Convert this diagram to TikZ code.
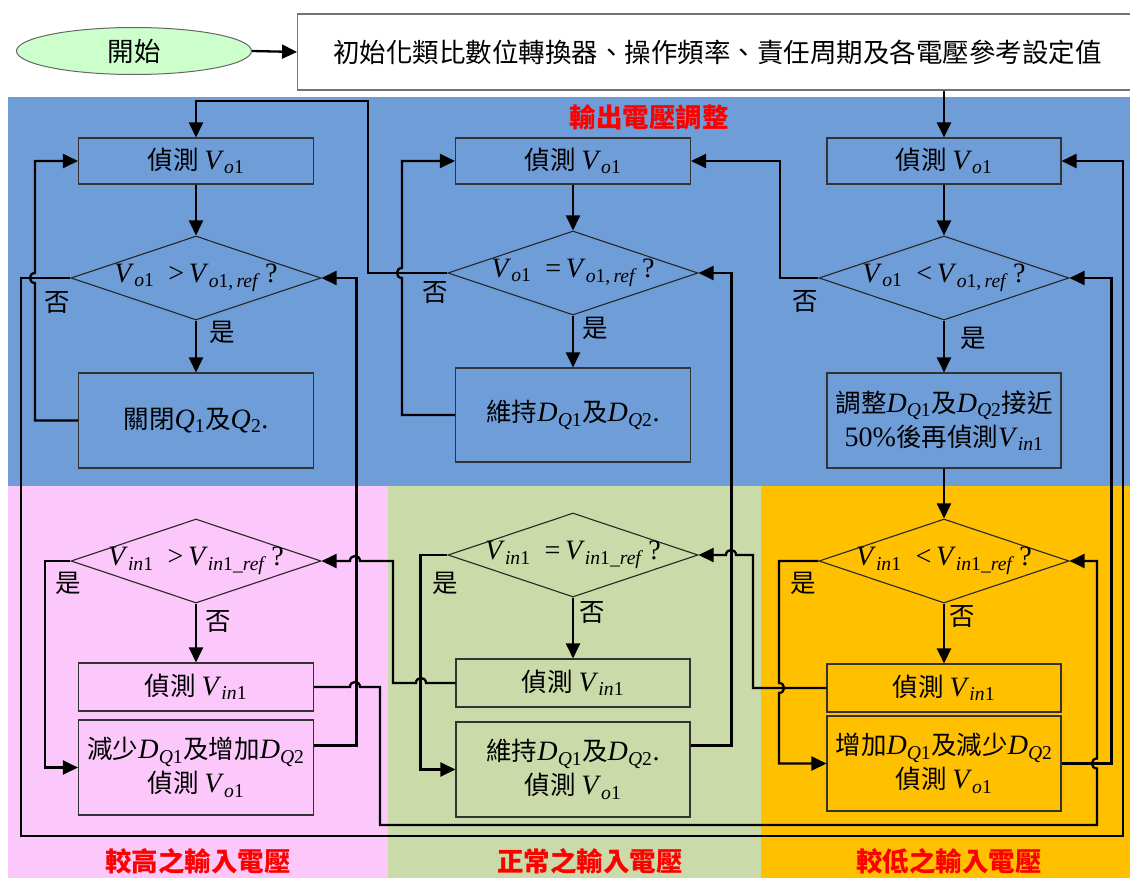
\documentclass[tikz,border=0pt]{standalone}
\usepackage{fontspec}
\setmainfont{Noto Sans CJK TC}
\newfontfamily\tms[Scale=1.1]{Liberation Serif}
\usetikzlibrary{shapes.geometric,arrows.meta,calc}
\definecolor{bgblue}{HTML}{6F9DD8}
\definecolor{bgpink}{HTML}{FCC8FC}
\definecolor{bggreen}{HTML}{CBDAA9}
\definecolor{bgorange}{HTML}{FFC000}
\definecolor{startgreen}{HTML}{CCFFCC}
\newcommand\bodyfont{\fontsize{25.5}{34}\selectfont}
\newcommand\startfont{\fontsize{26.5}{30}\selectfont}
\newcommand\titlefont{\fontsize{26.5}{30}\selectfont\bfseries}
\newcommand\mVo{{\tms\textit{V}\textsubscript{\textit{o}1}}}
\newcommand\mVin{{\tms\textit{V}\textsubscript{\textit{in}1}}}
\newcommand\mVoref{{\tms\textit{V}\textsubscript{\textit{o}1,\,\textit{ref}}}}
\newcommand\mVinref{{\tms\textit{V}\textsubscript{\textit{in}1\_\textit{ref}}}}
\newcommand\mDQ[1]{{\tms\textit{D}\textsubscript{\textit{Q}#1}}}
\newcommand\mQ[1]{{\tms\textit{Q}\textsubscript{#1}}}
\newcommand\mOp[1]{{\tms\enspace#1\,}}
\newcommand\mQm{{\tms\,?}}
\begin{document}
\begin{tikzpicture}[x=1pt,y=-1pt,
  box/.style={draw=black!80, line width=1.1pt, minimum width=235pt, minimum height=46pt, inner sep=0pt, font=\bodyfont, align=center},
  dia/.style={diamond, draw=black!85, line width=1.1pt, minimum width=250pt, minimum height=84pt, inner sep=0pt},
  txt/.style={font=\bodyfont, inner sep=0pt},
  conn/.style={line width=2.3pt, -{Triangle[length=15pt,width=14pt]}},
  ttl/.style={font=\titlefont, text=red, inner sep=0pt}]
\useasboundingbox (0,0) rectangle (1130,878);
\fill[white] (0,0) rectangle (1130,878);
\fill[bgblue] (8,97) rectangle (1130,486);
\fill[bgpink] (8,486) rectangle (388,878);
\fill[bggreen] (388,486) rectangle (761,878);
\fill[bgorange] (761,486) rectangle (1130,878);

% top
\node[ellipse, draw=black!60, line width=1pt, fill=startgreen, minimum width=235pt, minimum height=47pt, inner sep=0pt, font=\startfont] (S) at (134,51) {開始};
\node[draw=black!55, line width=1.3pt, fill=white, minimum width=840pt, minimum height=76pt, anchor=west, inner sep=0pt, font=\startfont] (I) at (297,52) {初始化類比數位轉換器、操作頻率、責任周期及各電壓參考設定值\hspace{8pt}};

% titles
\node[ttl] (T0) at (649,117) {輸出電壓調整};
\node[ttl] (T1) at (198,861) {較高之輸入電壓};
\node[ttl] (T2) at (590,861) {正常之輸入電壓};
\node[ttl] (T3) at (949,861) {較低之輸入電壓};

% column 1 (blue)
\node[box] (A1) at (196,161) {偵測 \mVo};
\node[dia] (D1) at (196,278) {};
\node[txt] (D1t) at (D1) {\mVo\mOp{>}\mVoref\mQm};
\node[box, minimum height=95pt] (B1) at (196,420.5) {關閉\mQ{1}及\mQ{2}{\tms .}};
% column 2 (blue)
\node[box] (A2) at (573,161) {偵測 \mVo};
\node[dia] (D2) at (573,273) {};
\node[txt] (D2t) at (D2) {\mVo\mOp{=}\mVoref\mQm};
\node[box, minimum height=94pt] (B2) at (573,415) {維持\mDQ{1}及\mDQ{2}{\tms .}};
% column 3 (blue)
\node[box, minimum width=234pt] (A3) at (944,161) {偵測 \mVo};
\node[dia] (D3) at (944,278) {};
\node[txt] (D3t) at (D3) {\mVo\mOp{<}\mVoref\mQm};
\node[box, minimum width=234pt, minimum height=95pt] (B3) at (944,420.5) {調整\mDQ{1}及\mDQ{2}接近\\{\tms 50\%}後再偵測\mVin};

% pink
\node[dia] (D4) at (196,561) {};
\node[txt] (D4t) at (D4) {\mVin\mOp{>}\mVinref\mQm};
\node[box, minimum height=48pt] (C4) at (196,687) {偵測 \mVin};
\node[box, minimum height=95pt] (E4) at (196,767.5) {減少\mDQ{1}及增加\mDQ{2}\\偵測 \mVo};
% green
\node[dia] (D5) at (573,555) {};
\node[txt] (D5t) at (D5) {\mVin\mOp{=}\mVinref\mQm};
\node[box, minimum width=234pt, minimum height=48pt] (C5) at (573,683) {偵測 \mVin};
\node[box, minimum width=234pt, minimum height=95pt] (E5) at (573,769.5) {維持\mDQ{1}及\mDQ{2}{\tms .}\\偵測 \mVo};
% orange
\node[dia] (D6) at (944,561) {};
\node[txt] (D6t) at (D6) {\mVin\mOp{<}\mVinref\mQm};
\node[box, minimum width=234pt, minimum height=48pt] (C6) at (944,688) {偵測 \mVin};
\node[box, minimum width=234pt, minimum height=95pt] (E6) at (944,763.5) {增加\mDQ{1}及減少\mDQ{2}\\偵測 \mVo};

% yes / no labels
\node[txt] (y1) at (222,332) {是};
\node[txt] (n1) at (57,303) {否};
\node[txt] (y2) at (595,328) {是};
\node[txt] (n2) at (435,293) {否};
\node[txt] (y3) at (973,338) {是};
\node[txt] (n3) at (805,302) {否};
\node[txt] (y4) at (68,583) {是};
\node[txt] (n4) at (218,622) {否};
\node[txt] (y5) at (445,583) {是};
\node[txt] (n5) at (592,613) {否};
\node[txt] (y6) at (803,583) {是};
\node[txt] (n6) at (962,617) {否};

% straight connectors
\draw[conn] (S.east) -- (I.west);
\draw[conn] (A3.north |- I.south) -- (A3.north);
\draw[conn] (A1.south) -- (D1.north);
\draw[conn] (A2.south) -- (D2.north);
\draw[conn] (A3.south) -- (D3.north);
\draw[conn] (D1.south) -- (B1.north);
\draw[conn] (D2.south) -- (B2.north);
\draw[conn] (D3.south) -- (B3.north);
\draw[conn] (B3.south) -- (D6.north);
\draw[conn] (D4.south) -- (C4.north);
\draw[conn] (D5.south) -- (C5.north);
\draw[conn] (D6.south) -- (C6.north);

% loops in the blue band
\draw[conn] (B1.west) -| (35,283) .. controls (28.3,283) and (28.3,273) .. (35,273) |- (A1.west);
\draw[conn] (D1.west) -| (21,836) -| (1123,161) -- (A3.east);
\draw[conn] (D2.west) -| (368,101) -| (A1.north);
\draw[conn] (B2.west) -| (402,278) .. controls (395.3,278) and (395.3,268) .. (402,268) |- (A2.west);
\draw[conn] (D3.west) -| (780,161) -- (A2.east);

% yes branches of the input checks
\draw[conn] (D4.west) -| ($(E4.west)+(-33,0)$) -- (E4.west);
\draw[conn] (D5.west) -| ($(E5.west)+(-35,0)$) -- (E5.west);
\draw[conn] (D6.west) -| (779,683) .. controls (785.7,683) and (785.7,693) .. (779,693) |- (E6.west);

% returns to the output checks
\draw[conn] ($(E4.east)+(0,-22)$) -| ($(D1.east)+(35,0)$) -- (D1.east);
\draw[conn] ($(E5.east)+(0,-24)$) -| ($(D2.east)+(33,0)$) -- (D2.east);
\draw[conn] (E6.east) -| ($(D3.east)+(42,0)$) -- (D3.east);

% detect Vin to next check
\draw[conn] (C4.east) -- (350,687) .. controls (350,680.3) and (360,680.3) .. (360,687) -| (380,825) -| (1097,768.5) .. controls (1090.3,768.5) and (1090.3,758.5) .. (1097,758.5) |- (D6.east);
\draw[conn] (C5.west) -- (426,683) .. controls (426,676.3) and (416,676.3) .. (416,683) -| (393,561) -- (360,561) .. controls (360,554.3) and (350,554.3) .. (350,561) -- (D4.east);
\draw[conn] (C6.west) -| (753,555) -- (736,555) .. controls (736,548.3) and (726,548.3) .. (726,555) -- (D5.east);
\end{tikzpicture}
\end{document}
